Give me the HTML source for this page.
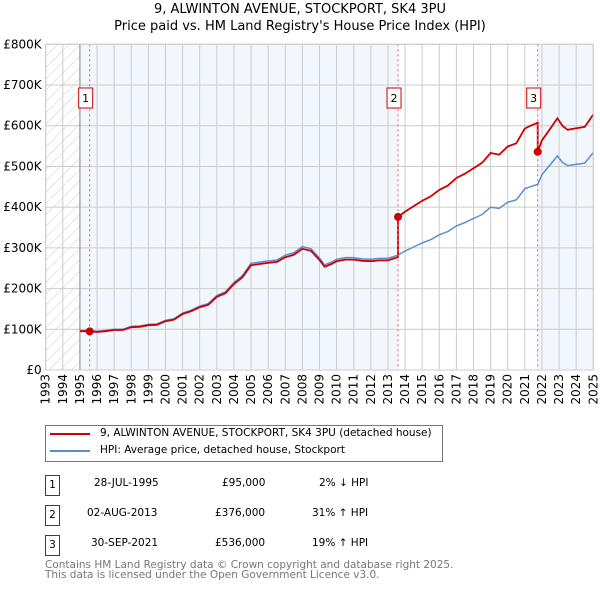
<!DOCTYPE html>
<html><head><meta charset="utf-8"><style>
body{margin:0;background:#fff;font-family:"DejaVu Sans","Liberation Sans",sans-serif;}
#wrap{position:relative;width:600px;height:590px;overflow:hidden}
.t{position:absolute;font-size:10.5px;color:#000;white-space:nowrap}
.box{position:absolute;width:13px;height:19px;border:1px solid #c00;font-size:10.5px;text-align:center;line-height:19px}
</style></head><body>
<div id="wrap">
<div class="t" style="left:0;width:600px;text-align:center;top:2px;font-size:13px">9, ALWINTON AVENUE, STOCKPORT, SK4 3PU</div>
<div class="t" style="left:0;width:600px;text-align:center;top:19px;font-size:13px">Price paid vs. HM Land Registry's House Price Index (HPI)</div>
<svg id="chart" width="600" height="420" style="position:absolute;left:0;top:0"></svg>
<div style="position:absolute;left:45px;top:425px;width:396px;height:35px;border:1px solid #777"></div>
<div style="position:absolute;left:50px;top:433px;width:40px;height:2px;background:#c00"></div>
<div class="t" style="left:100px;top:427px">9, ALWINTON AVENUE, STOCKPORT, SK4 3PU (detached house)</div>
<div style="position:absolute;left:50px;top:450px;width:40px;height:2px;background:#5b8ed0"></div>
<div class="t" style="left:100px;top:444px">HPI: Average price, detached house, Stockport</div>

<div class="box" style="left:45px;top:475px">1</div>
<div class="t" style="left:94px;top:477px">28-JUL-1995</div>
<div class="t" style="left:222px;top:477px">£95,000</div>
<div class="t" style="left:319px;top:477px">2% ↓ HPI</div>
<div class="box" style="left:45px;top:505px">2</div>
<div class="t" style="left:87px;top:507px">02-AUG-2013</div>
<div class="t" style="left:215px;top:507px">£376,000</div>
<div class="t" style="left:312px;top:507px">31% ↑ HPI</div>
<div class="box" style="left:45px;top:535px">3</div>
<div class="t" style="left:91px;top:537px">30-SEP-2021</div>
<div class="t" style="left:215px;top:537px">£536,000</div>
<div class="t" style="left:312px;top:537px">19% ↑ HPI</div>
<div class="t" style="left:45px;top:560px;color:#777;line-height:10px">Contains HM Land Registry data © Crown copyright and database right 2025.<br>This data is licensed under the Open Government Licence v3.0.</div>
</div>
<script>
const yTicks=[0,100,200,300,400,500,600,700,800];
const yTickLabels=["£0","£100K","£200K","£300K","£400K","£500K","£600K","£700K","£800K"];
const xYears=[1993,1994,1995,1996,1997,1998,1999,2000,2001,2002,2003,2004,2005,2006,2007,2008,2009,2010,2011,2012,2013,2014,2015,2016,2017,2018,2019,2020,2021,2022,2023,2024,2025];
const hpiT=[1995,1995.5,1996,1996.5,1997,1997.5,1998,1998.5,1999,1999.5,2000,2000.5,2001,2001.5,2002,2002.5,2003,2003.5,2004,2004.5,2005,2005.5,2006,2006.5,2007,2007.5,2008,2008.5,2009,2009.3,2009.7,2010,2010.5,2011,2011.5,2012,2012.5,2013,2013.58,2014,2014.5,2015,2015.5,2016,2016.5,2017,2017.5,2018,2018.5,2019,2019.5,2020,2020.5,2021,2021.3,2021.75,2022,2022.5,2022.9,2023.2,2023.5,2024,2024.5,2025];
const hpiV=[97,97,95,97,100,100,107,108,112,113,122,126,140,147,157,163,183,192,215,232,262,265,268,270,282,288,303,298,275,258,265,272,276,276,273,272,274,274,282,292,302,312,320,332,340,354,362,372,382,400,397,412,418,445,450,456,480,505,526,510,502,505,508,534];
const sales=[{t:1995.57,v:95},{t:2013.59,v:376},{t:2021.75,v:536}];
const X0=45.7,X1=593.3,Y0=370,Y1=44.3;
const xs=t=>X0+(t-1993)/(2025-1993)*(X1-X0);
const ys=v=>Y0-v/800*(Y0-Y1);
const svg=document.getElementById('chart');const NS='http://www.w3.org/2000/svg';
function mk(tag,at,name){const e=document.createElementNS(NS,tag);for(const k in at)e.setAttribute(k,at[k]);


svg.appendChild(e);return e;}
const defs=mk('defs',{},'defs');
defs.innerHTML='<pattern id="hatch" width="8" height="8" patternUnits="userSpaceOnUse" patternTransform="rotate(45)"><line x1="0" y1="0" x2="0" y2="8" stroke="#ccc" stroke-width="1"/></pattern>';
mk('rect',{x:xs(1995),y:Y1,width:xs(sales[1].t)-xs(1995),height:Y0-Y1,fill:'#f2f6fd'},'shade-period-1');
mk('rect',{x:xs(sales[2].t),y:Y1,width:X1-xs(sales[2].t),height:Y0-Y1,fill:'#f2f6fd'},'shade-period-3');
mk('rect',{x:X0,y:Y1,width:xs(1995)-X0,height:Y0-Y1,fill:'url(#hatch)'},'pre-data-hatch');
xYears.forEach(y=>mk('line',{x1:xs(y),x2:xs(y),y1:Y1,y2:Y0,stroke:'#ccc'},'x-grid-line'));
yTicks.forEach(v=>mk('line',{x1:X0,x2:X1,y1:ys(v),y2:ys(v),stroke:'#ccc'},'y-grid-line'));
mk('line',{x1:xs(1995),x2:xs(1995),y1:Y1,y2:Y0,stroke:'#888'},'data-start-line');
yTicks.forEach((v,i)=>{const t=mk('text',{x:X0-4,y:ys(v)+4,'text-anchor':'end','font-size':12,fill:'#000'},'y-tick-label');t.textContent=yTickLabels[i];});
xYears.forEach(y=>{const t=mk('text',{transform:`translate(${xs(y)+4},${Y0+4}) rotate(-90)`,'text-anchor':'end','font-size':12,fill:'#000'},'x-tick-label');t.textContent=y;});
let d='';hpiT.forEach((t,i)=>{d+=(i?'L':'M')+xs(t).toFixed(1)+','+ys(hpiV[i]).toFixed(1);});
mk('path',{d:d,fill:'none',stroke:'#5b8ed0','stroke-width':1.5},'hpi-line');
function hpiAt(t){for(let i=1;i<hpiT.length;i++)if(t<=hpiT[i]){const f=(t-hpiT[i-1])/(hpiT[i]-hpiT[i-1]);return hpiV[i-1]+f*(hpiV[i]-hpiV[i-1]);}return hpiV[hpiV.length-1];}
let pd='';const pts=[];
hpiT.forEach((t,i)=>{let k=0;for(let j=0;j<sales.length;j++)if(t>=sales[j].t)k=j;
 pts.push([t,hpiV[i]*sales[k].v/hpiAt(sales[k].t)]);});
sales.forEach((s,j)=>{if(j>0){const pr=sales[j-1];pts.push([s.t-0.001,hpiAt(s.t)*pr.v/hpiAt(pr.t)]);}pts.push([s.t,s.v]);});
pts.sort((a,b)=>a[0]-b[0]);
pts.forEach((p,i)=>{pd+=(i?'L':'M')+xs(p[0]).toFixed(1)+','+ys(p[1]).toFixed(1);});
mk('path',{d:pd,fill:'none',stroke:'#c00','stroke-width':1.8},'property-price-line');
sales.forEach((s,i)=>{
 mk('line',{x1:xs(s.t),x2:xs(s.t),y1:Y1,y2:Y0,stroke:'#f55','stroke-dasharray':'2,3'},'sale-marker-line');
 mk('circle',{cx:xs(s.t),cy:ys(s.v),r:4,fill:'#c00'},'sale-point');
 mk('rect',{x:xs(s.t)-11,y:88,width:14,height:20,fill:'#fff',stroke:'#c00'},'sale-label-box');
 const t=mk('text',{x:xs(s.t)-4,y:102,'text-anchor':'middle','font-size':11,fill:'#000'},'sale-label');t.textContent=i+1;
});
mk('rect',{x:X0,y:Y1,width:X1-X0,height:Y0-Y1,fill:'none',stroke:'#ccc'},'plot-border');
</script>
</body></html>
